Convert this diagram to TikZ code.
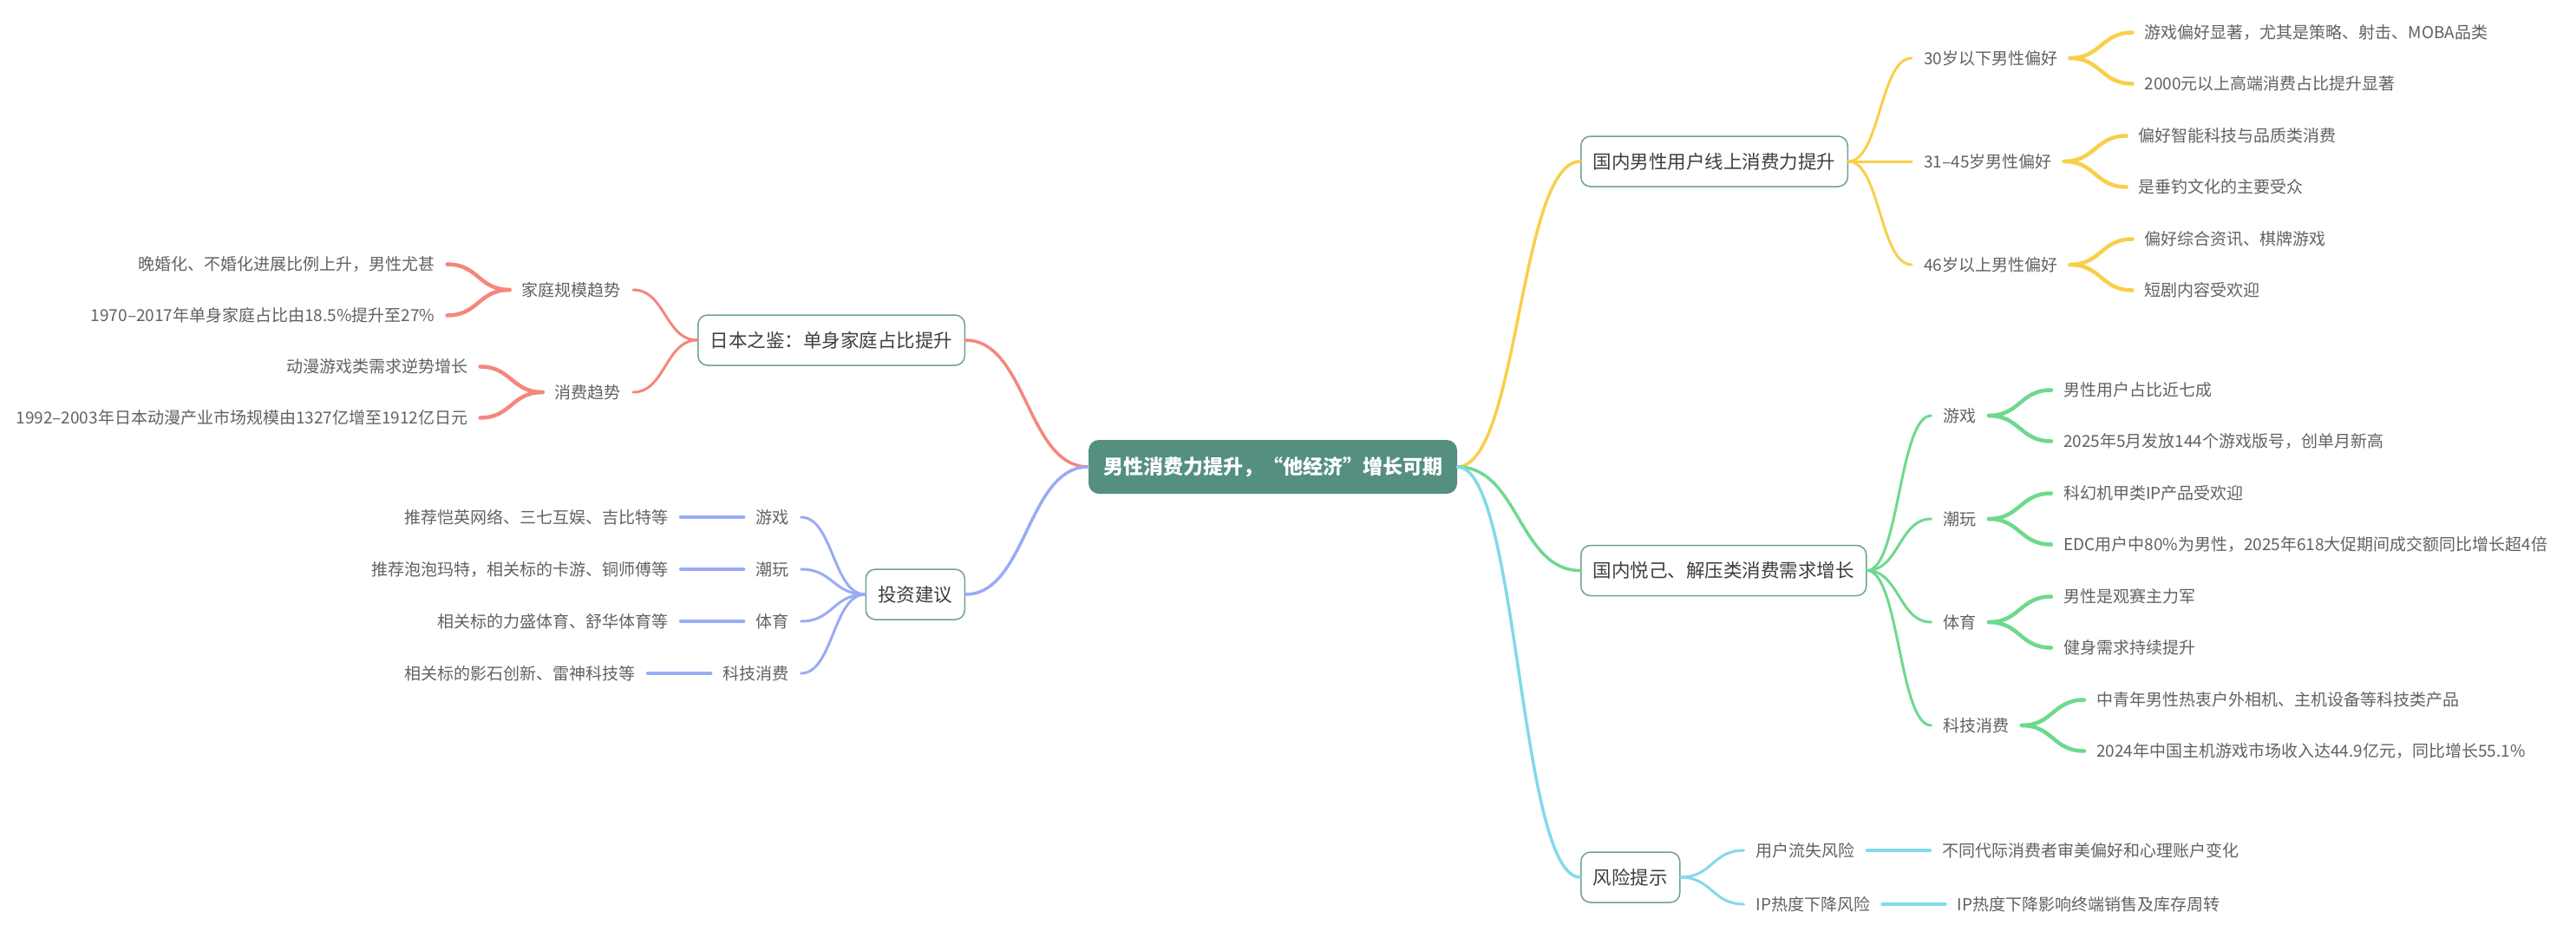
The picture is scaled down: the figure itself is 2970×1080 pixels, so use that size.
\documentclass[tikz,border=0pt]{standalone}
\usepackage{fontspec}
\setmainfont{Noto Sans CJK SC}
\usepackage{tikz}
\usetikzlibrary{positioning,calc}
\usepackage{xcolor}
\definecolor{rootteal}{HTML}{548F80}
\definecolor{boxline}{HTML}{6FA191}
\definecolor{inkdark}{HTML}{3E3E3E}
\definecolor{inkgrey}{HTML}{616161}
\definecolor{brcoral}{HTML}{F4877C}
\definecolor{brgold}{HTML}{F8CF4C}
\definecolor{brmint}{HTML}{6ED98D}
\definecolor{brlilac}{HTML}{9AABF5}
\definecolor{brsky}{HTML}{82D9EC}

\begin{document}
\begin{tikzpicture}[x=1pt, y=-1pt,
  topic/.style={rectangle, rounded corners=12pt, fill=rootteal, text=white,
                font=\fontsize{23}{27}\selectfont\bfseries,
                minimum width=425pt, minimum height=62pt},
  mainbox/.style={rectangle, rounded corners=11pt, draw=boxline, line width=1.5pt,
                  fill=white, text=inkdark, font=\fontsize{21.5}{26}\selectfont,
                  minimum height=58pt, inner xsep=14pt, inner ysep=0pt},
  twig/.style={text=inkgrey, font=\fontsize{19}{23}\selectfont,
               inner xsep=14pt, inner ysep=2pt},
  curvy/.style={to path={let \p1=(\tikztostart), \p2=(\tikztotarget) in
                .. controls ({(\x1+\x2)/2},\y1) and ({(\x1+\x2)/2},\y2) .. (\p2) \tikztonodes}},
  lvlA/.style={line width=3.5pt, line cap=round, curvy},
  lvlB/.style={line width=3pt, line cap=round, curvy},
  lvlC/.style={line width=4.5pt, line cap=round, curvy},
]
  \useasboundingbox (0,0) rectangle (2970,1080);

  %% Central topic
  \node[topic] (root) at (1467.5,538) {男性消费力提升，“他经济”增长可期};

  %% Main branches, right and left of the topic
  \node[mainbox, anchor=west] (online) at (1822,186)   {国内男性用户线上消费力提升};
  \node[mainbox, anchor=west] (relief) at (1822,657.5) {国内悦己、解压类消费需求增长};
  \node[mainbox, anchor=west] (risk)   at (1822,1011)  {风险提示};
  \node[mainbox, anchor=east] (japan)  at (1113,392)   {日本之鉴：单身家庭占比提升};
  \node[mainbox, anchor=east] (invest) at (1113,685)   {投资建议};

  %% Online spending by age
  \node[twig, right=73pt of online, yshift=119pt]  (age1) {30岁以下男性偏好};
  \node[twig, right=73pt of online]                (age2) {31–45岁男性偏好};
  \node[twig, right=73pt of online, yshift=-119pt] (age3) {46岁以上男性偏好};
  \node[twig, right=72pt of age1, yshift=29.5pt]  (age1a) {游戏偏好显著，尤其是策略、射击、MOBA品类};
  \node[twig, right=72pt of age1, yshift=-29.5pt] (age1b) {2000元以上高端消费占比提升显著};
  \node[twig, right=72pt of age2, yshift=29.5pt]  (age2a) {偏好智能科技与品质类消费};
  \node[twig, right=72pt of age2, yshift=-29.5pt] (age2b) {是垂钓文化的主要受众};
  \node[twig, right=72pt of age3, yshift=29.5pt]  (age3a) {偏好综合资讯、棋牌游戏};
  \node[twig, right=72pt of age3, yshift=-29.5pt] (age3b) {短剧内容受欢迎};

  %% Self-pleasing demand
  \node[twig, right=74pt of relief, yshift=178.5pt]  (rgame)  {游戏};
  \node[twig, right=74pt of relief, yshift=59.5pt]   (rtoy)   {潮玩};
  \node[twig, right=74pt of relief, yshift=-59.5pt]  (rsport) {体育};
  \node[twig, right=74pt of relief, yshift=-178.5pt] (rtech)  {科技消费};
  \node[twig, right=72pt of rgame, yshift=29.5pt]   (rgamea)  {男性用户占比近七成};
  \node[twig, right=72pt of rgame, yshift=-29.5pt]  (rgameb)  {2025年5月发放144个游戏版号，创单月新高};
  \node[twig, right=72pt of rtoy, yshift=29.5pt]    (rtoya)   {科幻机甲类IP产品受欢迎};
  \node[twig, right=72pt of rtoy, yshift=-29.5pt]   (rtoyb)   {EDC用户中80\%为男性，2025年618大促期间成交额同比增长超4倍};
  \node[twig, right=72pt of rsport, yshift=29.5pt]  (rsporta) {男性是观赛主力军};
  \node[twig, right=72pt of rsport, yshift=-29.5pt] (rsportb) {健身需求持续提升};
  \node[twig, right=72pt of rtech, yshift=29.5pt]   (rtecha)  {中青年男性热衷户外相机、主机设备等科技类产品};
  \node[twig, right=72pt of rtech, yshift=-29.5pt]  (rtechb)  {2024年中国主机游戏市场收入达44.9亿元，同比增长55.1\%};

  %% Risks
  \node[twig, right=73pt of risk, yshift=31pt]  (churn) {用户流失风险};
  \node[twig, right=73pt of risk, yshift=-31pt] (ipfall) {IP热度下降风险};
  \node[twig, right=72pt of churn]  (churnx)  {不同代际消费者审美偏好和心理账户变化};
  \node[twig, right=72pt of ipfall] (ipfallx) {IP热度下降影响终端销售及库存周转};

  %% Japan as a mirror
  \node[twig, left=74pt of japan, yshift=58pt]  (jfam) {家庭规模趋势};
  \node[twig, left=74pt of japan, yshift=-60pt] (jbuy) {消费趋势};
  \node[twig, left=72pt of jfam, yshift=29.5pt]  (jfama) {晚婚化、不婚化进展比例上升，男性尤甚};
  \node[twig, left=72pt of jfam, yshift=-29.5pt] (jfamb) {1970–2017年单身家庭占比由18.5\%提升至27\%};
  \node[twig, left=72pt of jbuy, yshift=29.5pt]  (jbuya) {动漫游戏类需求逆势增长};
  \node[twig, left=72pt of jbuy, yshift=-29.5pt] (jbuyb) {1992–2003年日本动漫产业市场规模由1327亿增至1912亿日元};

  %% Investment advice
  \node[twig, left=74pt of invest, yshift=89pt]  (igame)  {游戏};
  \node[twig, left=74pt of invest, yshift=29pt]  (itoy)   {潮玩};
  \node[twig, left=74pt of invest, yshift=-31pt] (isport) {体育};
  \node[twig, left=74pt of invest, yshift=-91pt] (itech)  {科技消费};
  \node[twig, left=72pt of igame]  (igamex)  {推荐恺英网络、三七互娱、吉比特等};
  \node[twig, left=72pt of itoy]   (itoyx)   {推荐泡泡玛特，相关标的卡游、铜师傅等};
  \node[twig, left=72pt of isport] (isportx) {相关标的力盛体育、舒华体育等};
  \node[twig, left=72pt of itech]  (itechx)  {相关标的影石创新、雷神科技等};

  %% Topic to main branches
  \draw[lvlA, brgold]  (root.east) to (online.west);
  \draw[lvlA, brmint]  (root.east) to (relief.west);
  \draw[lvlA, brsky]   (root.east) to (risk.west);
  \draw[lvlA, brcoral] (root.west) to (japan.east);
  \draw[lvlA, brlilac] (root.west) to (invest.east);

  %% Main branches to sub-topics
  \foreach \sub in {age1,age2,age3}
    \draw[lvlB, brgold] (online.east) to (\sub.west);
  \foreach \sub in {rgame,rtoy,rsport,rtech}
    \draw[lvlB, brmint] (relief.east) to (\sub.west);
  \foreach \sub in {churn,ipfall}
    \draw[lvlB, brsky] (risk.east) to (\sub.west);
  \foreach \sub in {jfam,jbuy}
    \draw[lvlB, brcoral] (japan.west) to (\sub.east);
  \foreach \sub in {igame,itoy,isport,itech}
    \draw[lvlB, brlilac] (invest.west) to (\sub.east);

  %% Sub-topics to details
  \foreach \sub in {age1,age2,age3} {
    \draw[lvlC, brgold] (\sub.east) to (\sub a.west);
    \draw[lvlC, brgold] (\sub.east) to (\sub b.west);
  }
  \foreach \sub in {rgame,rtoy,rsport,rtech} {
    \draw[lvlC, brmint] (\sub.east) to (\sub a.west);
    \draw[lvlC, brmint] (\sub.east) to (\sub b.west);
  }
  \foreach \sub in {jfam,jbuy} {
    \draw[lvlC, brcoral] (\sub.west) to (\sub a.east);
    \draw[lvlC, brcoral] (\sub.west) to (\sub b.east);
  }
  \foreach \sub in {churn,ipfall}
    \draw[lvlC, brsky] (\sub.east) -- (\sub x.west);
  \foreach \sub in {igame,itoy,isport,itech}
    \draw[lvlC, brlilac] (\sub.west) -- (\sub x.east);
\end{tikzpicture}
\end{document}
